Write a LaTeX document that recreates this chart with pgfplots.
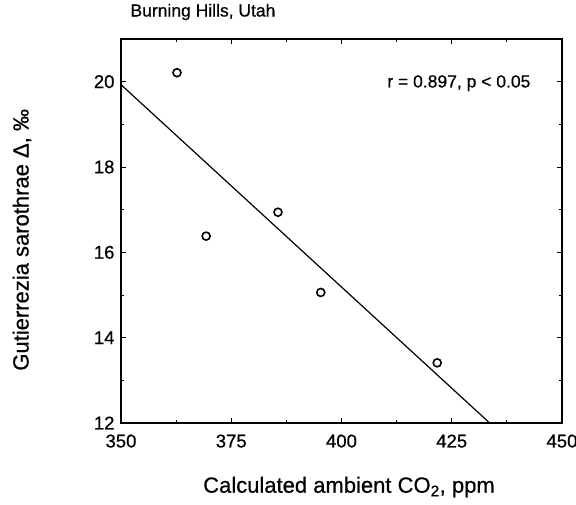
\documentclass[border=0pt]{standalone}
\usepackage{fontspec}
\setmainfont{Liberation Sans}[BoldFont=Liberation Sans, BoldFeatures={FakeBold=0.6}]
\usepackage{pgfplots}
\pgfplotsset{compat=1.18}
\begin{document}
\begin{tikzpicture}
\useasboundingbox (-121pt,-81pt) rectangle (455pt,423pt);
\begin{axis}[
  at={(0,0)}, anchor=south west,
  scale only axis,
  width=441pt, height=384pt,
  xmin=350, xmax=450, ymin=12, ymax=21,
  xtick={350,375,400,425,450},
  ytick={12,14,16,18,20},
  minor x tick num=1,
  minor y tick num=1,
  tick align=inside,
  major tick length=5pt,
  minor tick length=3pt,
  axis line style={line width=1.4pt},
  every tick/.style={black, line width=1pt},
  /pgf/number format/assume math mode=true,
  ticklabel style={font=\fontsize{18.5}{21}\selectfont\bfseries},
  xticklabel style={yshift=-8pt},
  yticklabel style={xshift=-3pt},
  xlabel={Calculated ambient CO\textsubscript{2}, ppm},
  ylabel={Gutierrezia sarothrae Δ, ‰},
  xlabel style={at={(axis description cs:0.517,-0.1667)}, anchor=center, font=\fontsize{22}{25}\selectfont\bfseries},
  ylabel style={at={(axis description cs:-0.2245,0.477)}, anchor=center, font=\fontsize{22}{25}\selectfont\bfseries},
  title={Burning Hills, Utah},
  title style={at={(axis description cs:0.0136,1.0547)}, anchor=west, font=\fontsize{17.5}{20}\selectfont\bfseries},
]
\addplot[black, line width=1.2pt, no marks] coordinates {(350,19.93) (433.6,12)};
\addplot[only marks, mark=o, mark size=4pt, mark options={line width=1.6pt, black}] coordinates {
(362.7,20.21)
(369.3,16.38)
(385.6,16.94)
(395.3,15.06)
(421.7,13.41)
};
\node[anchor=west, font=\fontsize{17.5}{20}\selectfont\bfseries] at (axis description cs:0.596,0.885) {r = 0.897, p < 0.05};
\end{axis}
\end{tikzpicture}
\end{document}
